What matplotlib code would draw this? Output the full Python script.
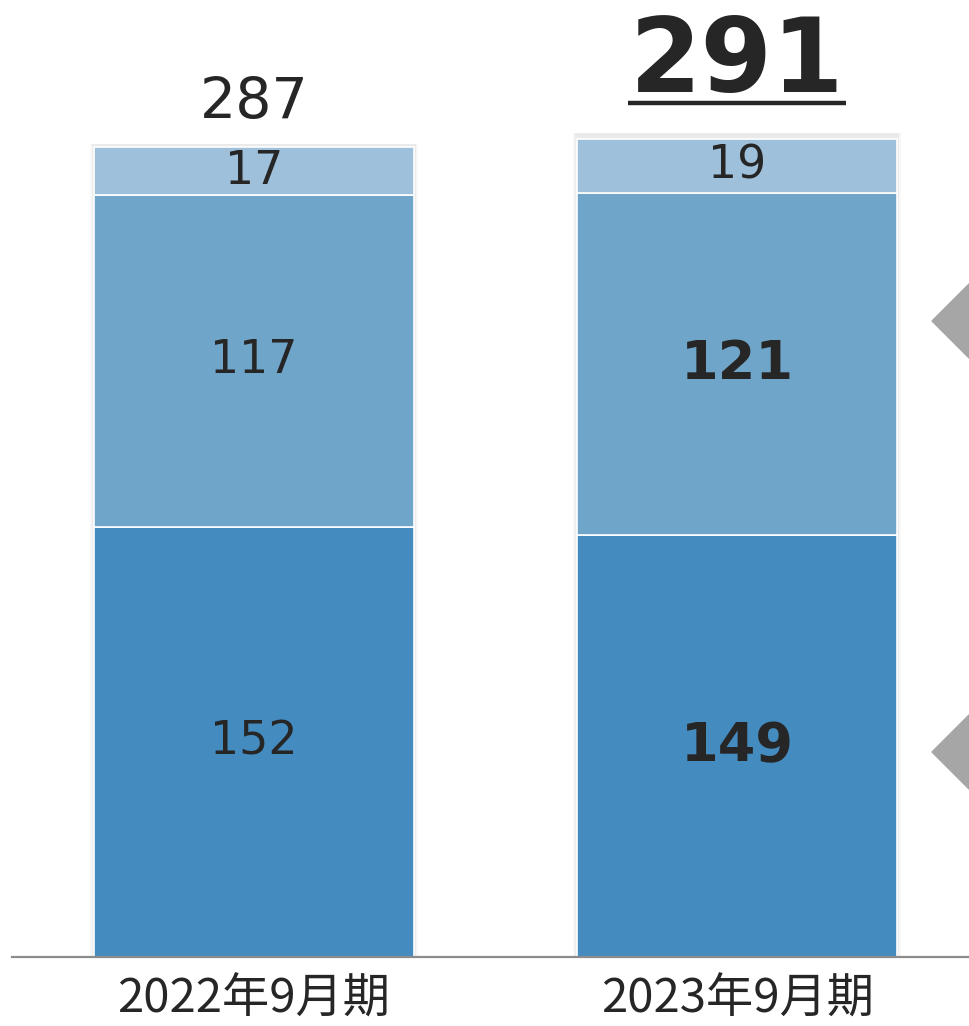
import os
import matplotlib
import matplotlib.pyplot as plt
from matplotlib.font_manager import FontProperties
from matplotlib.patches import Polygon
import numpy as np

plt.rcParams['font.family'] = ['DejaVu Sans', 'Noto Sans CJK JP']

periods = ["2022年9月期", "2023年9月期"]
bottom_vals = [152, 149]
middle_vals = [117, 121]
top_vals = [17, 19]
totals = [287, 291]
highlight = [False, True]

seg_colors = ["#448bbf", "#6ea5c9", "#9fc0da"]
text_color = "#262626"

ttf_dir = os.path.join(matplotlib.get_data_path(), "fonts", "ttf")


def num_font(size, bold=False):
    name = "DejaVuSans-Bold.ttf" if bold else "DejaVuSans.ttf"
    return FontProperties(fname=os.path.join(ttf_dir, name), size=size)


fig = plt.figure(figsize=(9.70, 10.26), dpi=100)
ax = fig.add_axes([12 / 970, 69 / 1026, 958 / 970, 957 / 1026])

x = np.arange(len(periods))
width = 0.6625

# soft shadow on the sides of each stacked column
for xi, tot in zip(x, totals):
    for pad, alpha in [(0.016, 0.06), (0.009, 0.10)]:
        ax.bar(xi, tot, width=width + pad, color="#808080", alpha=alpha,
               linewidth=0, zorder=1)

bottom = np.zeros(len(periods))
for vals, color in zip([bottom_vals, middle_vals, top_vals], seg_colors):
    ax.bar(x, vals, width=width, bottom=bottom, color=color,
           edgecolor="white", linewidth=1.2, zorder=2)
    for xi, b, v, hl in zip(x, bottom, vals, highlight):
        bold = hl and v >= 30
        ax.text(xi, b + v / 2, str(v), ha="center", va="center",
                fontproperties=num_font(39 if bold else 33, bold),
                color=text_color, zorder=3)
    bottom = bottom + np.array(vals)

# totals above the columns
lift = {False: 18.5, True: 29.5}
total_texts = []
for xi, tot, hl in zip(x, totals, highlight):
    t = ax.annotate(str(tot), (xi, tot), xytext=(0, lift[hl]),
                    textcoords="offset points", ha="center", va="baseline",
                    fontproperties=num_font(74 if hl else 41, hl),
                    color=text_color)
    total_texts.append((t, xi, tot, hl))

ax.set_xlim(-0.501, 1.482)
ax.set_ylim(0, 338.0)
ax.axhline(0, color="#8c8c8c", linewidth=1.6, zorder=4, clip_on=False)

for s in ax.spines.values():
    s.set_visible(False)
ax.set_yticks([])
ax.set_xticks(x)
ax.set_xticklabels(periods, fontsize=34, color=text_color,
                   family=['Noto Sans CJK JP'])
ax.tick_params(axis="x", length=0, pad=13)

# underline the highlighted total, just below its baseline
fig.canvas.draw()
renderer = fig.canvas.get_renderer()
to_fig = fig.transFigure.inverted()
for t, xi, tot, hl in total_texts:
    if not hl:
        continue
    bb = t.get_window_extent(renderer)
    base_y = ax.transData.transform((xi, tot))[1] + lift[hl] * fig.dpi / 72
    y_disp = base_y - 11
    (x0, y0), (x1, _) = to_fig.transform([(bb.x0 - 2, y_disp), (bb.x1 + 2, y_disp)])
    fig.add_artist(plt.Line2D([x0, x1], [y0, y0], color=text_color,
                              linewidth=3.2, solid_capstyle="butt"))

# grey arrow heads on the right edge
for tip_y in [321, 752]:
    pts = [(932 / 970, 1 - tip_y / 1026),
           (980 / 970, 1 - (tip_y - 48) / 1026),
           (980 / 970, 1 - (tip_y + 48) / 1026)]
    fig.add_artist(Polygon(pts, closed=True, color="#a6a6a6",
                           transform=fig.transFigure))

fig.savefig("out.png", dpi=100)
